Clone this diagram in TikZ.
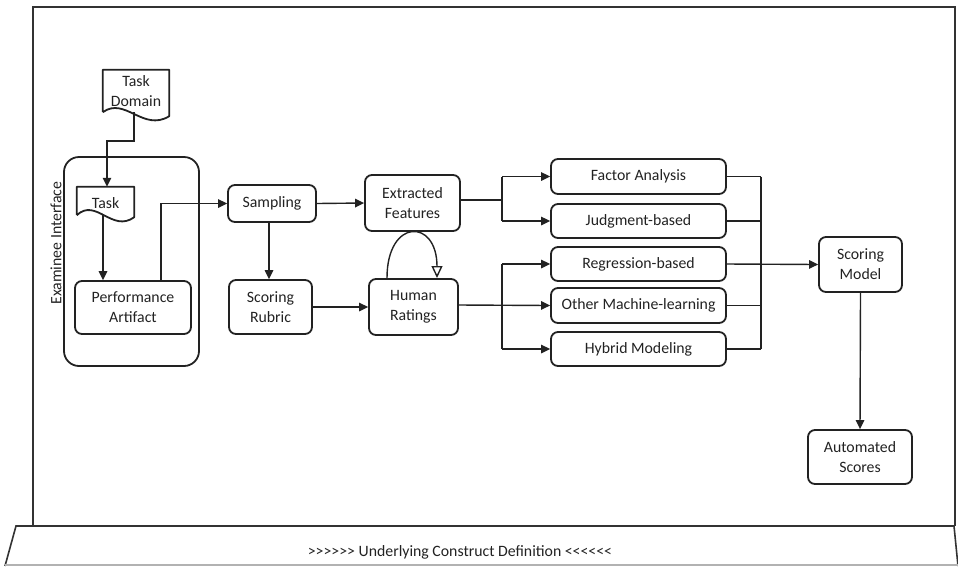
\documentclass[tikz,border=0pt]{standalone}
\usepackage{fontspec}
\setmainfont{Carlito}[Ligatures=TeXOff]
\usetikzlibrary{arrows.meta}
\definecolor{ink}{HTML}{222222}
\definecolor{frameink}{HTML}{333333}
\begin{document}
\begin{tikzpicture}[x=1pt,y=-1pt,
  font=\fontsize{15.8}{20}\selectfont,
  every node/.style={text=ink},
  box/.style={draw=ink, line width=1.8pt, rounded corners=7pt, inner sep=0pt, align=center},
  docbox/.style={inner sep=0pt, align=center},
  conn/.style={draw=ink, line width=1.4pt},
  arr/.style={conn, -{Triangle[length=9pt,width=8.5pt]}},
  openarr/.style={conn, -{Triangle[open,length=12pt,width=11pt,fill=white,line width=1.4pt]}}
]
\useasboundingbox (0,0) rectangle (958,566);

% outer frame and base strip
\draw[frameink, line width=1.8pt] (33,526) -- (33,7) -- (955,7) -- (955,526);
\draw[frameink, line width=1.6pt] (5,566) -- (16,526) -- (954,526) -- (958,566);
\draw[gray!60, line width=1.2pt] (5,565) -- (958,565);
\node (ucd) at (460,552) {>>>>>> Underlying Construct Definition <<<<<<};

% examinee interface container
\draw[ink, line width=1.8pt, rounded corners=15pt] (64,157) rectangle (199,366);
\node[rotate=90] (ei) at (56,243) {Examinee Interface};

% document-shaped nodes
\node[docbox, minimum width=66pt, minimum height=42pt] (td) at (136,91) {Task\\Domain};
\draw[ink, line width=1.8pt, line join=round] (td.south west) -- (td.north west) -- (td.north east) -- ([yshift=-4pt]td.south east)
  .. controls ([xshift=-26pt,yshift=-20pt]td.south east) and ([xshift=22pt,yshift=16pt]td.south west) .. (td.south west);
\node[docbox, minimum width=57pt, minimum height=28pt] (task) at (105.5,201) {};
\node at (105.5,203) {Task};
\draw[ink, line width=1.8pt, line join=round] (task.south west) -- (task.north west) -- (task.north east) -- ([yshift=-2pt]task.south east)
  .. controls ([xshift=-22pt,yshift=-18pt]task.south east) and ([xshift=19pt,yshift=18pt]task.south west) .. (task.south west);

% process boxes
\node[box, minimum width=116pt, minimum height=53pt] (pa) at (133,307.5) {Performance\\Artifact};
\node[box, minimum width=88pt, minimum height=37pt] (samp) at (272,203.5) {Sampling};
\node[box, minimum width=95pt, minimum height=56pt] (ef) at (412.5,203) {Extracted\\Features};
\node[box, minimum width=83pt, minimum height=54pt] (sr) at (270.5,307) {Scoring\\Rubric};
\node[box, minimum width=89pt, minimum height=56pt] (hr) at (413.5,307) {Human\\Ratings};

\node[box, minimum width=175pt, minimum height=35pt] (fa)  at (638.5,176.5) {Factor Analysis};
\node[box, minimum width=175pt, minimum height=34pt] (jb)  at (638.5,221) {Judgment-based};
\node[box, minimum width=175pt, minimum height=34pt] (reg) at (638.5,264) {Regression-based};
\node[box, minimum width=175pt, minimum height=35pt] (oml) at (638.5,305.5) {Other Machine-learning};
\node[box, minimum width=175pt, minimum height=34pt] (hm)  at (638.5,349) {Hybrid Modeling};

\node[box, minimum width=83pt, minimum height=55pt] (sm) at (860.5,264.5) {Scoring\\Model};
\node[box, minimum width=104pt, minimum height=54pt] (as) at (860,457) {Automated\\Scores};

% junction coordinates
\coordinate (tdout) at (134,112);
\coordinate (tdbend) at (107,141);
\coordinate (paout) at (161,280);
\coordinate (splitA) at (502,200);
\coordinate (splitB) at (502,305);
\coordinate (bus) at (761,264);
\coordinate (loopL) at (387,278);
\coordinate (loopR) at (437,278);

% connectors
\draw[arr] (tdout) |- (tdbend) -- (tdbend |- task.north);
\draw[arr] (task.south -| 103,0) -- (103,0 |- pa.north);
\draw[arr] (paout) |- (samp.west);
\draw[arr] (samp.east) -- (ef.west);
\draw[arr] (samp.south -| 269,0) -- (269,0 |- sr.north);
\draw[arr] (sr.east) -- (hr.west);
\draw[openarr] (loopL) .. controls (387,218) and (437,218) .. (loopR);

\draw[conn] (ef.east |- splitA) -- (splitA);
\draw[conn] (splitA |- fa.west) -- (splitA |- jb.west);
\draw[arr] (splitA |- fa.west) -- (fa.west);
\draw[arr] (splitA |- jb.west) -- (jb.west);

\draw[arr] (hr.east |- splitB) -- (oml.west);
\draw[conn] (splitB |- reg.west) -- (splitB |- hm.west);
\draw[arr] (splitB |- reg.west) -- (reg.west);
\draw[arr] (splitB |- hm.west) -- (hm.west);

\draw[conn] (fa.east) -- (bus |- fa.east);
\draw[conn] (jb.east) -- (bus |- jb.east);
\draw[conn] (oml.east) -- (bus |- oml.east);
\draw[conn] (hm.east) -- (bus |- hm.east);
\draw[conn] (bus |- fa.east) -- (bus |- hm.east);
\draw[arr] (reg.east) -- (sm.west);
\draw[arr] (sm.south) -- (as.north);
\end{tikzpicture}
\end{document}
